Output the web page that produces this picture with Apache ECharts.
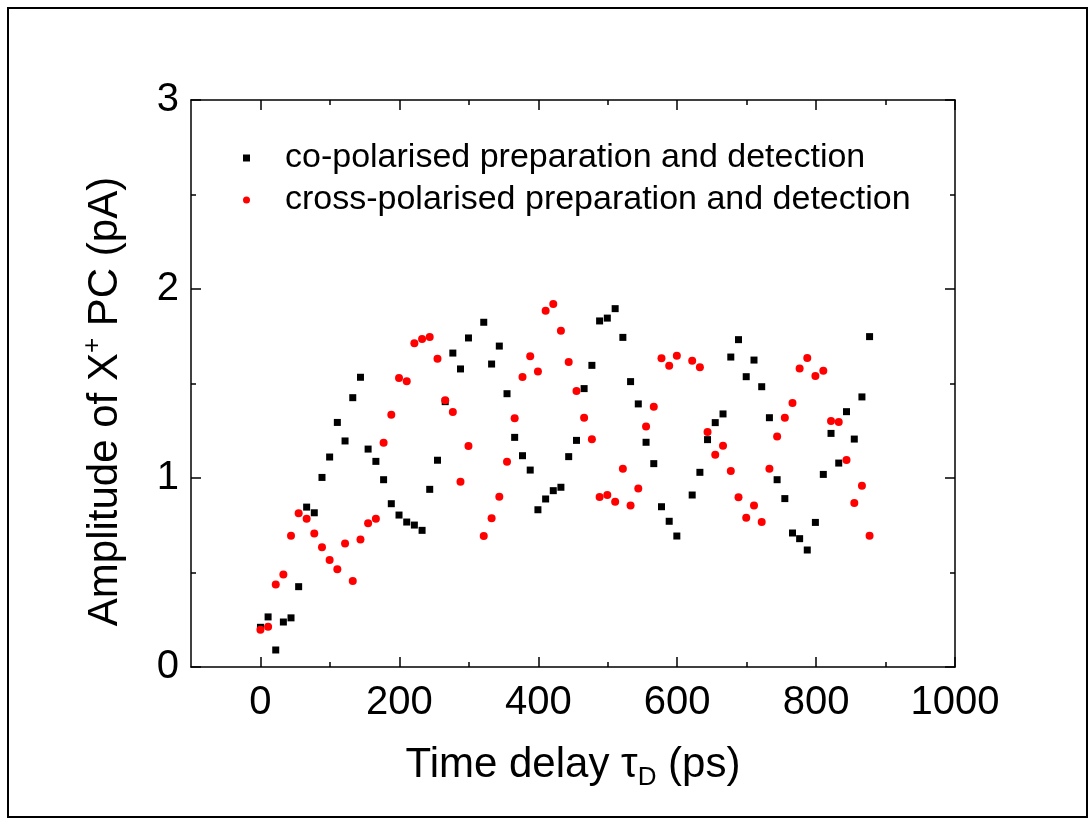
<!DOCTYPE html>
<html>
<head>
<meta charset="utf-8">
<title>X+ photocurrent amplitude vs time delay</title>
<script src="https://cdn.jsdelivr.net/npm/echarts@6/dist/echarts.min.js"></script>
<style>
  html, body { margin: 0; padding: 0; background: #fff; }
  #chart { width: 1092px; height: 823px; }
</style>
</head>
<body>
<div id="chart"></div>
<script>
// Time delay of each measurement (ps), shared by both polarisation configurations
const delays = [
  0, 11, 22, 33, 44, 55, 66.5, 77.5, 88.6, 99.6,
  110.7, 121.8, 132.9, 144, 155, 166.2, 177.3, 188.4, 199.5, 210.6,
  221.6, 232.7, 243.7, 254.9, 266, 277, 288, 299.5, 321.5, 332.8,
  343.9, 355, 366, 377.3, 388.4, 399.5, 410.6, 421.6, 432.6, 443.8,
  455, 466, 477.2, 488.3, 499.4, 510.7, 521.8, 532.9, 544, 555.2,
  566.3, 577.4, 588.5, 599.5, 621.6, 632.7, 643.7, 654.8, 666, 677.2,
  688.3, 699.4, 710.6, 721.7, 732.8, 743.9, 755, 766, 776.3, 787.3,
  799, 810.4, 821.5, 832.6, 843.8, 855, 866, 877
];

// Amplitude (pA), co-polarised preparation and detection
const coPolarised = [
  0.21, 0.265, 0.09, 0.238, 0.26, 0.425, 0.846, 0.816, 1.003, 1.111,
  1.294, 1.196, 1.425, 1.533, 1.153, 1.088, 0.991, 0.864, 0.804, 0.767,
  0.751, 0.723, 0.94, 1.094, 1.404, 1.661, 1.577, 1.741, 1.824, 1.603,
  1.698, 1.446, 1.215, 1.118, 1.042, 0.832, 0.889, 0.933, 0.951, 1.113,
  1.199, 1.473, 1.596, 1.831, 1.846, 1.896, 1.744, 1.51, 1.392, 1.189,
  1.076, 0.848, 0.771, 0.693, 0.91, 1.03, 1.203, 1.293, 1.339, 1.64,
  1.732, 1.536, 1.624, 1.483, 1.319, 0.991, 0.891, 0.709, 0.679, 0.619,
  0.765, 1.019, 1.236, 1.079, 1.351, 1.206, 1.429, 1.748
];

// Amplitude (pA), cross-polarised preparation and detection
const crossPolarised = [
  0.197, 0.213, 0.437, 0.489, 0.695, 0.813, 0.785, 0.707, 0.633, 0.566,
  0.517, 0.653, 0.455, 0.674, 0.76, 0.785, 1.187, 1.335, 1.529, 1.512,
  1.713, 1.735, 1.746, 1.631, 1.411, 1.349, 0.98, 1.169, 0.693, 0.787,
  0.901, 1.086, 1.316, 1.534, 1.644, 1.563, 1.885, 1.921, 1.779, 1.614,
  1.46, 1.319, 1.205, 0.899, 0.91, 0.875, 1.049, 0.855, 0.945, 1.272,
  1.377, 1.633, 1.594, 1.647, 1.621, 1.586, 1.243, 1.123, 1.171, 1.037,
  0.898, 0.79, 0.854, 0.767, 1.049, 1.219, 1.319, 1.397, 1.58, 1.635,
  1.54, 1.568, 1.302, 1.296, 1.095, 0.868, 0.959, 0.695
];

const seriesNames = [
  'co-polarised preparation and detection',
  'cross-polarised preparation and detection'
];

// Tick positions
const xMajorTicks = [0, 200, 400, 600, 800, 1000];
const xMinorTicks = [100, 300, 500, 700, 900];
const yMajorTicks = [0, 1, 2, 3];
const yMinorTicks = [0.5, 1.5, 2.5];

const FONT = '"Liberation Sans", Arial, Helvetica, sans-serif';
const INK = '#000';

function pairs(xs, ys) {
  return xs.map((x, i) => [x, ys[i]]);
}

// One axis layer: the frame line plus either the long (major) or short (minor) inward ticks
function axisLayer(dim, position, ticks, tickLen, withLine, withLabels, extra) {
  const range = dim === 'x' ? { min: -100, max: 1000 } : { min: 0, max: 3 };
  return Object.assign({
    type: 'value',
    position: position,
    min: range.min,
    max: range.max,
    axisLine: { show: withLine, onZero: false, lineStyle: { color: INK, width: 1.5 } },
    axisTick: {
      show: true, inside: true, length: tickLen, customValues: ticks,
      lineStyle: { color: INK, width: 1.5 }
    },
    axisLabel: {
      show: withLabels, customValues: ticks,
      formatter: (v) => String(v),
      color: INK, fontFamily: FONT, fontSize: 40,
      margin: dim === 'x' ? 16 : 12
    },
    splitLine: { show: false }
  }, extra || {});
}

const chart = echarts.init(document.getElementById('chart'), null, { renderer: 'canvas' });

chart.setOption({
  animation: false,
  backgroundColor: '#fff',
  grid: { left: 191, right: 137, top: 100, bottom: 156, containLabel: false },
  graphic: [{
    type: 'rect',
    shape: { x: 8, y: 8, width: 1079, height: 809 },
    style: { fill: null, stroke: INK, lineWidth: 2 },
    silent: true
  }],
  legend: {
    orient: 'vertical',
    left: 243,
    top: 141,
    padding: 0,
    itemWidth: 7,
    itemHeight: 7,
    itemGap: 8,
    textStyle: { fontSize: 34, fontFamily: FONT, color: INK, lineHeight: 34, padding: [0, 0, 0, 30] },
    data: [
      { name: seriesNames[0], icon: 'rect' },
      { name: seriesNames[1], icon: 'circle' }
    ]
  },
  xAxis: [
    axisLayer('x', 'bottom', xMajorTicks, 10, true, true, {
      name: '{n|Time delay τ}{sub|D}{n| (ps)}',
      nameLocation: 'middle',
      nameGap: 74,
      nameTextStyle: {
        rich: {
          n: { fontSize: 42, fontFamily: FONT, color: INK, lineHeight: 48 },
          sub: { fontSize: 26, fontFamily: FONT, color: INK, lineHeight: 26, padding: [26, 0, 0, 0] }
        }
      }
    }),
    axisLayer('x', 'bottom', xMinorTicks, 5, false, false),
    axisLayer('x', 'top', xMajorTicks, 10, true, false),
    axisLayer('x', 'top', xMinorTicks, 5, false, false)
  ],
  yAxis: [
    axisLayer('y', 'left', yMajorTicks, 10, true, true, {
      name: '{n|Amplitude of X}{sup|+}{n| PC (pA)}',
      nameLocation: 'middle',
      nameGap: 62,
      nameRotate: 90,
      nameTextStyle: {
        padding: [0, 36, 0, 0],
        rich: {
          n: { fontSize: 42, fontFamily: FONT, color: INK, lineHeight: 48 },
          sup: { fontSize: 26, fontFamily: FONT, color: INK, lineHeight: 26, padding: [0, 0, 24, 0] }
        }
      }
    }),
    axisLayer('y', 'left', yMinorTicks, 5, false, false),
    axisLayer('y', 'right', yMajorTicks, 10, true, false),
    axisLayer('y', 'right', yMinorTicks, 5, false, false)
  ],
  series: [
    {
      name: seriesNames[0],
      type: 'scatter',
      xAxisIndex: 0,
      yAxisIndex: 0,
      symbol: 'rect',
      symbolSize: 7,
      itemStyle: { color: '#000', opacity: 1 },
      data: pairs(delays, coPolarised),
      z: 2
    },
    {
      name: seriesNames[1],
      type: 'scatter',
      xAxisIndex: 0,
      yAxisIndex: 0,
      symbol: 'circle',
      symbolSize: 8,
      itemStyle: { color: '#ff0000', opacity: 1 },
      data: pairs(delays, crossPolarised),
      z: 3
    }
  ]
});
</script>
</body>
</html>
